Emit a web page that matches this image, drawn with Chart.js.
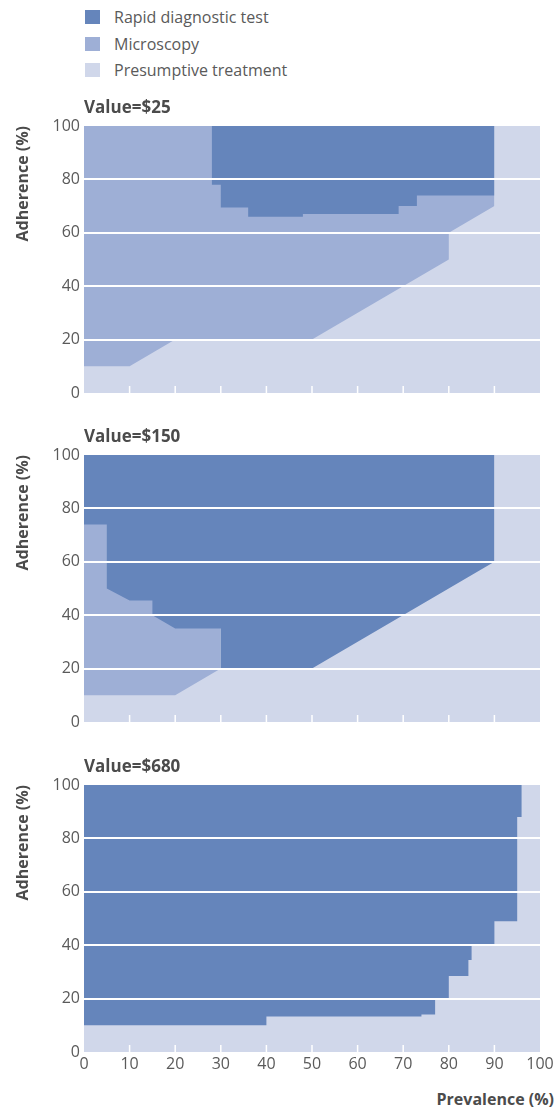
<!DOCTYPE html>
<html>
<head>
<meta charset="utf-8">
<script src="https://cdn.jsdelivr.net/npm/chart.js@4.4.0/dist/chart.umd.min.js"></script>
<style>
	body { margin: 0; width: 557px; height: 1110px; position: relative; background: #fff; font-family: "Open Sans", sans-serif; color: #5a5a5a; overflow: hidden; }
	.legend-item { position: absolute; left: 85px; height: 20px; font-size: 16px; line-height: 20px; white-space: nowrap; }
	.legend-item .box { position: absolute; left: 0; top: 3px; width: 15px; height: 14px; }
	.legend-item .txt { position: absolute; left: 29px; top: 0; }
	.panel { position: absolute; left: 0; width: 557px; }
	.ptitle { position: absolute; left: 84px; font-weight: bold; font-size: 17px; line-height: 17px; color: #4b4b4b; }
	.xtitle { position: absolute; right: 3px; top: 1091px; font-weight: bold; font-size: 16px; line-height: 16px; color: #4b4b4b; }
</style>
</head>
<body>
<div id="legend"></div>
<div id="panels"></div>
<div class="xtitle">Prevalence (%)</div>

<script>
// categories / labels
const seriesNames = ['Rapid diagnostic test', 'Microscopy', 'Presumptive treatment'];
const seriesColors = ['#6585bb', '#9eafd6', '#d0d7ea'];
const panelTitles = ['Value=$25', 'Value=$150', 'Value=$680'];
const prevalenceTicks = [0, 10, 20, 30, 40, 50, 60, 70, 80, 90, 100];
const adherenceTicks = [0, 20, 40, 60, 80, 100];

// region outlines, prevalence (x) and adherence (y) in %, each closed against adherence = 100
// Value=$25
const rdt25X = [28, 28, 30, 30, 36, 36, 48, 48, 69, 69, 73, 73, 90, 90];
const rdt25Y = [100, 78, 78, 69.5, 69.5, 66, 66, 67, 67, 70, 70, 74, 74, 100];
const mic25X = [0, 0, 10, 20, 50, 80, 80, 90, 90];
const mic25Y = [100, 10, 10, 20, 20, 50, 60, 70, 100];
// Value=$150
const rdt150X = [0, 0, 5, 5, 10, 15, 15, 20, 30, 30, 50, 90, 90];
const rdt150Y = [100, 74, 74, 50, 45.5, 45.5, 40, 35, 35, 20, 20, 60, 100];
const mic150X = [0, 0, 20, 30, 30];
const mic150Y = [100, 10, 10, 20, 100];
// Value=$680
const rdt680X = [0, 0, 40, 40, 74, 74, 77, 77, 80, 80, 84.3, 84.3, 85, 85, 90, 90, 95, 95, 96, 96];
const rdt680Y = [100, 10, 10, 13.3, 13.3, 14, 14, 20, 20, 28.5, 28.5, 34.5, 34.5, 40, 40, 49, 49, 88, 88, 100];
const mic680X = [];
const mic680Y = [];
// presumptive treatment covers everything underneath
const presX = [0, 100];
const presY = [0, 0];

const panels = [
	{title: panelTitles[0], top: 126, rdt: [rdt25X, rdt25Y], mic: [mic25X, mic25Y], showX: false},
	{title: panelTitles[1], top: 455, rdt: [rdt150X, rdt150Y], mic: [mic150X, mic150Y], showX: false},
	{title: panelTitles[2], top: 785, rdt: [rdt680X, rdt680Y], mic: [mic680X, mic680Y], showX: true},
];

const PLOT_H = 267;
const PAD_TOP = 20;

// legend
const legend = document.getElementById('legend');
[17, 44, 70].forEach((cy, i) => {
	const item = document.createElement('div');
	item.className = 'legend-item';
	item.style.top = (cy - 10) + 'px';
	const box = document.createElement('span');
	box.className = 'box';
	box.style.background = seriesColors[i];
	const txt = document.createElement('span');
	txt.className = 'txt';
	txt.textContent = seriesNames[i];
	item.appendChild(box);
	item.appendChild(txt);
	legend.appendChild(item);
});

// small white tick marks along the bottom, inside the plot
const tickMarks = {
	id: 'tickMarks',
	afterDatasetsDraw(chart) {
		const {ctx, chartArea, scales: {x}} = chart;
		ctx.save();
		ctx.strokeStyle = '#fff';
		ctx.lineWidth = 1.5;
		x.ticks.forEach(t => {
			if (t.value <= 0 || t.value >= 100) return;
			const px = x.getPixelForValue(t.value);
			ctx.beginPath();
			ctx.moveTo(px, chartArea.bottom);
			ctx.lineTo(px, chartArea.bottom - 7);
			ctx.stroke();
		});
		ctx.restore();
	}
};

const toPoints = (xs, ys) => xs.map((x, i) => ({x: x, y: ys[i]}));

const region = (xs, ys, color, order) => ({
	data: toPoints(xs, ys),
	backgroundColor: color,
	borderColor: 'transparent',
	borderWidth: 0,
	pointRadius: 0,
	tension: 0,
	fill: {value: 100},
	order: order
});

const container = document.getElementById('panels');
const tickFont = {family: 'Open Sans', size: 16};

panels.forEach(p => {
	const bottomExtra = p.showX ? 34 : 20;
	const wrap = document.createElement('div');
	wrap.className = 'panel';
	wrap.style.top = (p.top - PAD_TOP) + 'px';

	const title = document.createElement('div');
	title.className = 'ptitle';
	title.style.top = (p.top - 28) + 'px';
	title.textContent = p.title;
	document.body.appendChild(title);

	const canvas = document.createElement('canvas');
	canvas.width = 557;
	canvas.height = PLOT_H + PAD_TOP + bottomExtra;
	wrap.appendChild(canvas);
	container.appendChild(wrap);

	new Chart(canvas, {
		type: 'line',
		data: {
			datasets: [
				region(p.rdt[0], p.rdt[1], seriesColors[0], 1),
				region(p.mic[0], p.mic[1], seriesColors[1], 2),
				region(presX, presY, seriesColors[2], 3)
			]
		},
		options: {
			responsive: false,
			animation: false,
			layout: {padding: {top: PAD_TOP, right: 17, bottom: p.showX ? 0 : 20, left: 0}},
			plugins: {legend: {display: false}, tooltip: {enabled: false}},
			scales: {
				x: {
					type: 'linear',
					min: 0,
					max: 100,
					afterBuildTicks: s => { s.ticks = prevalenceTicks.map(v => ({value: v})); },
					afterFit: s => { s.height = p.showX ? 34 : 0; },
					ticks: {display: p.showX, padding: 3, color: '#5a5a5a', font: tickFont, maxRotation: 0},
					grid: {display: false, drawTicks: false},
					border: {display: false}
				},
				y: {
					min: 0,
					max: 100,
					afterBuildTicks: s => { s.ticks = adherenceTicks.map(v => ({value: v})); },
					afterFit: s => { s.width = 84; },
					ticks: {padding: 4, color: '#5a5a5a', font: tickFont},
					grid: {
						z: 1,
						drawTicks: false,
						lineWidth: 2,
						color: c => (c.tick && c.tick.value > 0 && c.tick.value < 100) ? '#ffffff' : 'rgba(0,0,0,0)'
					},
					border: {display: false},
					title: {
						display: true,
						text: 'Adherence (%)',
						align: 'end',
						color: '#4b4b4b',
						font: {family: 'Open Sans', size: 16, weight: 'bold'},
						padding: {top: 14, bottom: 0}
					}
				}
			}
		},
		plugins: [tickMarks]
	});
});
</script>
</body>
</html>
